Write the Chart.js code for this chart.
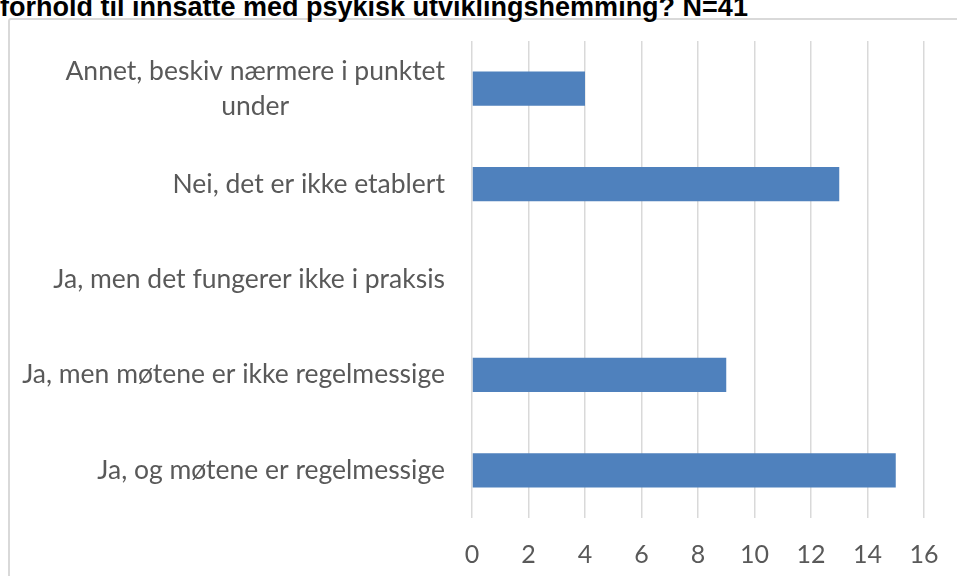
<!DOCTYPE html>
<html>
<head>
<meta charset="utf-8">
<script src="https://cdn.jsdelivr.net/npm/chart.js@4.4.1/dist/chart.umd.min.js"></script>
<style>
  body { margin: 0; background: #fff; }
  #wrap { position: relative; width: 957px; height: 576px; overflow: hidden; }
  #title {
    position: absolute; left: 0; top: -8px; white-space: nowrap;
    font: bold 27px "Liberation Sans", Arial, sans-serif; color: #000;
  }
  #frame {
    position: absolute; left: 8px; top: 18px; width: 1000px; height: 700px;
    border: 2px solid #d9d9d9; border-radius: 3px; box-sizing: border-box;
  }
  canvas { position: absolute; left: 0; top: 0; }
</style>
</head>
<body>
<div id="wrap">
  <div id="frame"></div>
  <div id="title">forhold til innsatte med psykisk utviklingshemming? N=41</div>
  <canvas id="chart" width="957" height="576"></canvas>
</div>
<script>
// categories top to bottom, as in the picture
const categories = [
  ["Annet, beskiv nærmere i punktet", "under"],
  ["Nei, det er ikke etablert"],
  ["Ja, men det fungerer ikke i praksis"],
  ["Ja, men møtene er ikke regelmessige"],
  ["Ja, og møtene er regelmessige"]
];
const counts = [4, 13, 0, 9, 15];
const xTicks = [0, 2, 4, 6, 8, 10, 12, 14, 16];

const labelFont = '26.5px Lato, "Open Sans", sans-serif';
const textColor = "#595959";

// draws the category labels, lines centred on each other, block right aligned
const catLabels = {
  id: "catLabels",
  afterDraw(chart) {
    const ctx = chart.ctx;
    const y = chart.scales.y;
    const right = chart.chartArea.left - 27;
    ctx.save();
    ctx.font = labelFont;
    ctx.fillStyle = textColor;
    ctx.textBaseline = "middle";
    ctx.textAlign = "center";
    categories.forEach((lines, i) => {
      const cy = y.getPixelForValue(i);
      const w = Math.max(...lines.map(l => ctx.measureText(l).width));
      const cx = right - w / 2;
      const lh = 35;
      lines.forEach((l, j) => {
        ctx.fillText(l, cx, cy + (j - (lines.length - 1) / 2) * lh);
      });
    });
    ctx.restore();
  }
};

new Chart(document.getElementById("chart"), {
  type: "bar",
  data: {
    labels: categories.map(c => c.join(" ")),
    datasets: [
      {
        data: counts,
        backgroundColor: "#4f81bd",
        barPercentage: 0.9,
        categoryPercentage: 0.4,
      },
    ],
  },
  options: {
    indexAxis: "y",
    responsive: false,
    animation: false,
    layout: { padding: { top: 41, right: 33, left: 0, bottom: 0 } },
    plugins: { legend: { display: false }, tooltip: { enabled: false } },
    scales: {
      x: {
        min: 0,
        max: 16,
        afterBuildTicks: (s) => { s.ticks = xTicks.map(v => ({ value: v })); },
        afterFit: (s) => { s.height = 58; s.paddingLeft = 0; s.paddingRight = 0; },
        grid: { color: "#d9d9d9", lineWidth: 1.5, drawTicks: false },
        border: { display: false },
        ticks: {
          color: textColor,
          padding: 22,
          font: { family: "Lato", size: 25 },
        },
      },
      y: {
        afterFit: (s) => { s.width = 472; },
        grid: { display: false },
        border: { display: false },
        ticks: { display: false },
      },
    },
  },
  plugins: [catLabels],
});
</script>
</body>
</html>
